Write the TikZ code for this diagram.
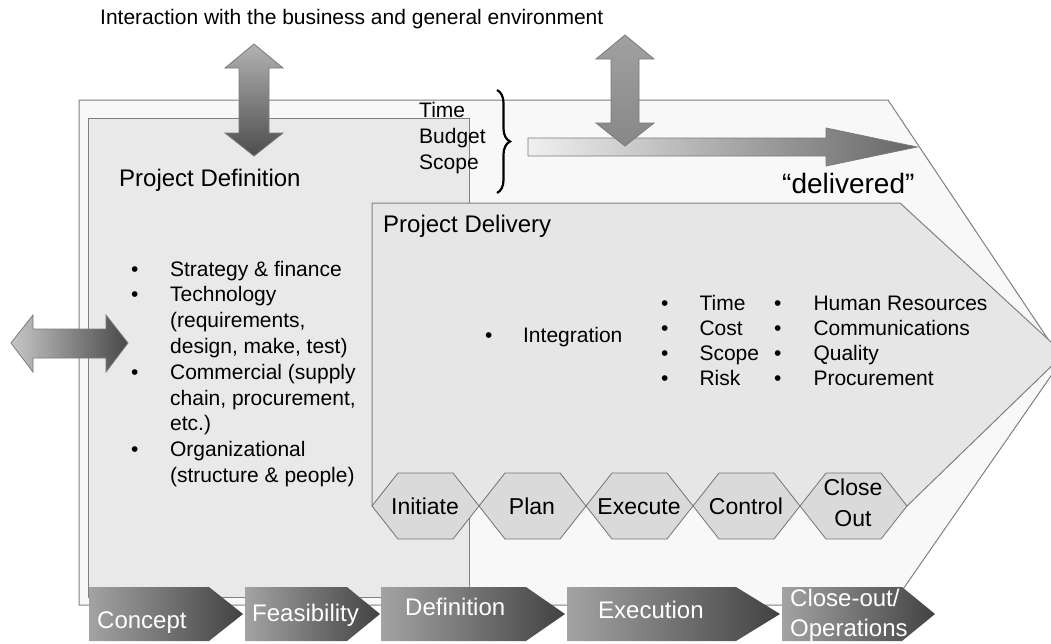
\documentclass[tikz,border=0pt]{standalone}
\usepackage{fontspec}
\setmainfont{Liberation Sans}
\usepackage{xcolor}
\usetikzlibrary{decorations.pathreplacing}

\definecolor{framegray}{HTML}{808080}
\definecolor{outerfill}{HTML}{F8F8F8}
\definecolor{deffill}{HTML}{E9E9E9}
\definecolor{delfill}{HTML}{E6E6E6}
\definecolor{hexfill}{HTML}{DADADA}
\definecolor{hexedge}{HTML}{737373}
\definecolor{arrowedge}{HTML}{7A7A7A}
\definecolor{stagelight}{HTML}{A3A3A3}
\definecolor{stagedark}{HTML}{424242}

\begin{document}
\begin{tikzpicture}[x=1pt, y=-1pt,
    panelbox/.style={draw=framegray, line width=1pt},
    blockarrow/.style={draw=arrowedge, line width=0.8pt},
    phasehex/.style={draw=hexedge, fill=hexfill, line width=0.8pt},
    stagebox/.style={left color=stagelight, right color=stagedark},
    txt/.style={inner sep=0pt, font=\fontsize{21}{25.8}\selectfont},
    heading/.style={inner sep=0pt, font=\fontsize{24}{29}\selectfont},
    phasetxt/.style={inner sep=0pt, font=\fontsize{23}{31}\selectfont},
    stagetxt/.style={inner sep=0pt, text=white, font=\fontsize{24}{30}\selectfont}]
  \useasboundingbox (0,0) rectangle (1051,643);
  \clip (0,0) rectangle (1051,643);

  % environment frame, definition box, delivery pentagon
  \filldraw[panelbox, fill=outerfill] (79,100) -- (888,100) -- (1062,360) -- (892,605) -- (79,605) -- cycle;
  \filldraw[panelbox, fill=deffill] (88,118) rectangle (469,597);
  \filldraw[panelbox, fill=delfill] (372,203) -- (900,203) -- (1064,354) -- (907,506) -- (372,506) -- cycle;

  % delivery phases
  \filldraw[phasehex] (372,506) -- ++(26,-33) -- ++(55,0) -- ++(26,33) -- ++(-26,33) -- ++(-55,0) -- cycle;
  \filldraw[phasehex] (479,506) -- ++(26,-33) -- ++(55,0) -- ++(26,33) -- ++(-26,33) -- ++(-55,0) -- cycle;
  \filldraw[phasehex] (586,506) -- ++(26,-33) -- ++(55,0) -- ++(26,33) -- ++(-26,33) -- ++(-55,0) -- cycle;
  \filldraw[phasehex] (693,506) -- ++(26,-33) -- ++(55,0) -- ++(26,33) -- ++(-26,33) -- ++(-55,0) -- cycle;
  \filldraw[phasehex] (800,506) -- ++(26,-33) -- ++(55,0) -- ++(26,33) -- ++(-26,33) -- ++(-55,0) -- cycle;
  \node[phasetxt, anchor=base] (init) at (425,514) {Initiate};
  \node[phasetxt, anchor=base] (plan) at (532,514) {Plan};
  \node[phasetxt, anchor=base] (exec) at (639,514) {Execute};
  \node[phasetxt, anchor=base] (ctrl) at (746,514) {Control};
  \node[phasetxt, anchor=base] (close) at (853,495) {\begin{tabular}[t]{@{}c@{}}Close\\Out\end{tabular}};

  % block arrows
  \shadedraw[blockarrow, top color=black!30, bottom color=black!70]
    (254,44) -- (283,68) -- (269,68) -- (269,133) -- (283,133) -- (254,156)
    -- (225,133) -- (239,133) -- (239,68) -- (225,68) -- cycle;
  \shadedraw[blockarrow, left color=black!6, right color=black!60]
    (528,138) -- (826,138) -- (826,128) -- (917,147) -- (826,166) -- (826,156) -- (528,156) -- cycle;
  \shadedraw[blockarrow, top color=black!37, bottom color=black!47]
    (625,35) -- (654,59) -- (639,59) -- (639,123) -- (654,123) -- (625,146)
    -- (596,123) -- (611,123) -- (611,59) -- (596,59) -- cycle;
  \shadedraw[blockarrow, left color=black!22, right color=black!72]
    (11,343) -- (33,315) -- (33,329) -- (106,329) -- (106,315) -- (128,343)
    -- (106,372) -- (106,358) -- (33,358) -- (33,372) -- cycle;

  % life cycle stages
  \shade[stagebox] (89,587) -- (209,587) -- (243,614) -- (209,641) -- (89,641) -- cycle;
  \shade[stagebox] (245,587) -- (347,587) -- (380,614) -- (347,641) -- (245,641) -- cycle;
  \shade[stagebox] (381,587) -- (526,587) -- (565,614) -- (526,641) -- (381,641) -- cycle;
  \shade[stagebox] (567,587) -- (736,587) -- (780,614) -- (736,641) -- (567,641) -- cycle;
  \shade[stagebox] (782,587) -- (902,587) -- (935,614) -- (902,641) -- (782,641) -- cycle;
  \node[stagetxt, anchor=base west] (concept) at (97,628) {Concept};
  \node[stagetxt, anchor=base west] (feas) at (252,621) {Feasibility};
  \node[stagetxt, anchor=base west] (defn) at (405,615) {Definition};
  \node[stagetxt, anchor=base west] (execn) at (598,618) {Execution};
  \node[stagetxt, anchor=base west] (closeout) at (790,606)
    {\begin{tabular}[t]{@{}l@{}}Close-out/\\Operations\end{tabular}};

  % triple constraint
  \draw[decorate, decoration={brace, amplitude=13pt}, line width=2.2pt] (497,90) -- (497,193);
  \node[txt, anchor=base west] (tbs) at (419,117)
    {\fontsize{21}{26}\selectfont\begin{tabular}[t]{@{}l@{}}Time\\Budget\\Scope\end{tabular}};
  \node[inner sep=0pt, font=\fontsize{28}{32}\selectfont, anchor=base west] (delivered) at (782,193) {“delivered”};

  % texts
  \node[txt, anchor=base west] (title) at (100,24) {Interaction with the business and general environment};
  \node[heading, anchor=base west] (defhead) at (119,186) {Project Definition};
  \node[heading, anchor=base west] (delhead) at (383,232) {Project Delivery};
  \node[txt, anchor=base west] (defitems) at (131,276)
    {\begin{tabular}[t]{@{}l@{\hspace{31.6pt}}l@{}}
      • & Strategy \& finance\\
      • & Technology\\
        & (requirements,\\
        & design, make, test)\\
      • & Commercial (supply\\
        & chain, procurement,\\
        & etc.)\\
      • & Organizational\\
        & (structure \& people)
    \end{tabular}};
  \node[txt, anchor=base west] (integ) at (485,342)
    {\begin{tabular}[t]{@{}l@{\hspace{30.6pt}}l@{}}• & Integration\end{tabular}};
  \node[txt, anchor=base west] (pmitems) at (661,310)
    {\fontsize{21}{25}\selectfont\begin{tabular}[t]{@{}l@{\hspace{31pt}}l@{}}
      • & Time\\ • & Cost\\ • & Scope\\ • & Risk
    \end{tabular}};
  \node[txt, anchor=base west] (kaitems) at (774,310)
    {\fontsize{21}{25}\selectfont\begin{tabular}[t]{@{}l@{\hspace{32pt}}l@{}}
      • & Human Resources\\ • & Communications\\ • & Quality\\ • & Procurement
    \end{tabular}};
\end{tikzpicture}
\end{document}
